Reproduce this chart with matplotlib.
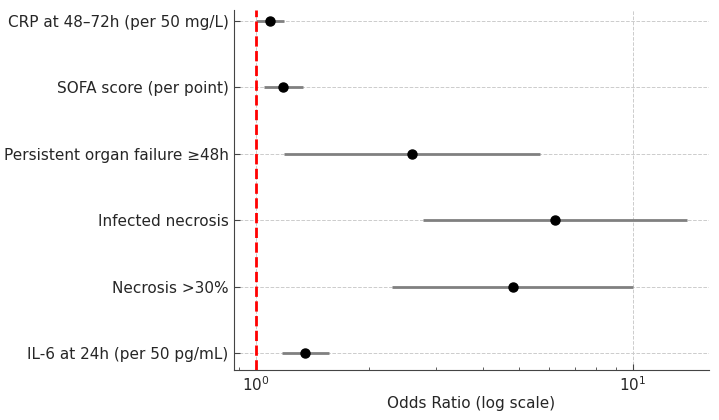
import numpy as np
import matplotlib
matplotlib.use("Agg")
import matplotlib.pyplot as plt

# ─── Data (bottom to top) ─────────────────────────────
labels = ['IL-6 at 24h (per 50 pg/mL)', 'Necrosis >30%', 'Infected necrosis',
          'Persistent organ failure ≥48h', 'SOFA score (per point)',
          'CRP at 48–72h (per 50 mg/L)']
odds   = [1.35, 4.80, 6.20, 2.60, 1.18, 1.09]
ci_low = [1.17, 2.30, 2.78, 1.19, 1.05, 1.00]
ci_high = [1.56, 10.0, 13.9, 5.67, 1.33, 1.19]

plt.rcParams['text.color'] = '#262626'
plt.rcParams['axes.labelcolor'] = '#262626'
plt.rcParams['xtick.color'] = '#262626'
plt.rcParams['ytick.color'] = '#262626'

fig = plt.figure(figsize=(7.19, 4.2), dpi=100)
ax = fig.add_axes([0.3255, 0.119, 0.6605, 0.857])

y = np.arange(len(labels))
odds = np.array(odds)
err = [odds - np.array(ci_low), np.array(ci_high) - odds]
ax.errorbar(odds, y, xerr=err, fmt='o', color='black', ecolor='gray',
            elinewidth=2, capsize=0, markersize=6.5, zorder=3)
ax.axvline(1, color='red', linestyle='--', linewidth=2, zorder=4)

ax.set_xscale('log')
ax.set_xlim(0.875, 15.9)
ax.set_ylim(-0.256, 5.166)
ax.set_yticks(y)
ax.set_yticklabels(labels, fontsize=11)
ax.tick_params(axis='x', labelsize=11, pad=4)
ax.tick_params(axis='y', pad=4)
ax.tick_params(direction='in', length=4, color='#444444')
ax.tick_params(which='minor', direction='in', length=2.5, color='#444444')
ax.set_xlabel('Odds Ratio (log scale)', fontsize=11, labelpad=1)
ax.grid(True, which='major', linestyle='--', linewidth=0.7, color='#cccccc')
ax.spines['top'].set_visible(False)
ax.spines['right'].set_visible(False)
ax.spines['left'].set_color('#444444')
ax.spines['bottom'].set_color('#444444')
ax.set_axisbelow(True)

plt.savefig('out.png', dpi=100)
